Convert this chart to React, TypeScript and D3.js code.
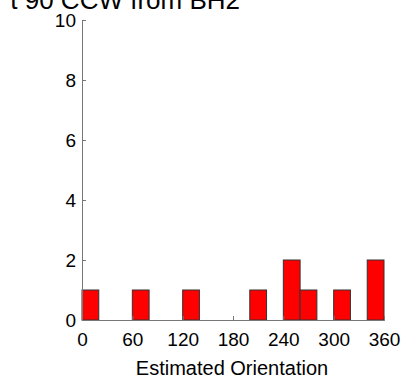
import * as d3 from 'd3';
import { useEffect, useRef } from 'react';

// histogram bins (left edge, degrees) and counts
const binStarts = [0, 60, 120, 200, 240, 260, 300, 340];
const binCounts = [1, 1, 1, 1, 2, 1, 1, 2];
const binWidth = 20;

const xTicks = [0, 60, 120, 180, 240, 300, 360];
const yTicks = [0, 2, 4, 6, 8, 10];

// only the end of the title is visible in the figure
const titleText = 't 90 CCW from BH2';
const xLabel = 'Estimated Orientation';

const width = 406;
const height = 387;
const margin = { top: 20, right: 22, bottom: 67, left: 82 };

function App() {
  const svgElement = useRef<SVGSVGElement | null>(null);

  useEffect(() => {
    if (!svgElement.current) return;
    const svg = d3.select(svgElement.current);
    svg.selectAll('*').remove();

    const innerW = width - margin.left - margin.right;
    const innerH = height - margin.top - margin.bottom;

    const x = d3.scaleLinear().domain([0, 360]).range([0, innerW]);
    const y = d3.scaleLinear().domain([0, 10]).range([innerH, 0]);

    const chart = svg
      .append('g')
      .attr('transform', `translate(${margin.left}, ${margin.top})`);

    const font = "Arial, 'Liberation Sans', sans-serif";

    // bars
    chart
      .selectAll('.bar')
      .data(binStarts)
      .join('rect')
      .attr('class', 'bar')
      .attr('x', (d) => x(d))
      .attr('y', (d, i) => y(binCounts[i]))
      .attr('width', x(binWidth) - x(0))
      .attr('height', (d, i) => y(0) - y(binCounts[i]))
      .attr('fill', '#ff0000')
      .attr('stroke', '#333')
      .attr('stroke-width', 1);

    // x axis (ticks inward)
    const xAxis = chart
      .append('g')
      .attr('transform', `translate(0, ${innerH})`)
      .call(d3.axisBottom(x).tickValues(xTicks).tickSize(-4).tickPadding(13));
    xAxis.select('.domain').attr('stroke', '#777');
    xAxis.selectAll('.tick line').attr('stroke', '#777');
    xAxis
      .selectAll('.tick text')
      .attr('fill', '#000')
      .style('font-size', '19px')
      .style('font-family', font);

    // y axis (ticks inward)
    const yAxis = chart
      .append('g')
      .call(d3.axisLeft(y).tickValues(yTicks).tickSize(-4).tickPadding(6));
    yAxis.select('.domain').attr('stroke', '#777');
    yAxis.selectAll('.tick line').attr('stroke', '#777');
    yAxis
      .selectAll('.tick text')
      .attr('fill', '#000')
      .style('font-size', '19px')
      .style('font-family', font);

    // x label
    svg
      .append('text')
      .attr('x', 232)
      .attr('y', 375)
      .attr('text-anchor', 'middle')
      .style('font-size', '20px')
      .style('font-family', font)
      .text(xLabel);

    // title (clipped at top of figure)
    svg
      .append('text')
      .attr('x', 240)
      .attr('y', 9)
      .attr('text-anchor', 'end')
      .style('font-size', '26px')
      .style('font-family', font)
      .text(titleText);
  }, []);

  return (
    <svg
      ref={svgElement}
      width={width}
      height={height}
      style={{ position: 'absolute', left: 0, top: 0, background: '#fff' }}
    />
  );
}

export default App;
